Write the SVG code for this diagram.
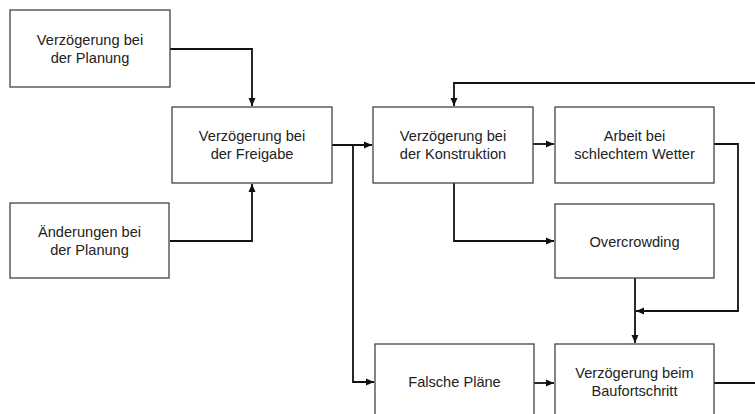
<svg xmlns="http://www.w3.org/2000/svg" width="755" height="414" viewBox="0 0 755 414">
<defs>
<marker id="ah" markerWidth="8" markerHeight="8" refX="8" refY="4" orient="auto" markerUnits="userSpaceOnUse">
<path d="M0,0.5 L8,4 L0,7.5 Z" fill="#111"/>
</marker>
<style>
.box{fill:#fff;stroke:#444;stroke-width:1.3}
.t{font-family:"Liberation Sans",Arial,sans-serif;font-size:14.6px;fill:#222;text-anchor:middle}
.c{fill:none;stroke:#111;stroke-width:1.8}
</style>
</defs>
<rect width="755" height="414" fill="#fff"/>
<g id="connectors">
<path class="c" d="M170,49 H252 V106" marker-end="url(#ah)"/>
<path class="c" d="M170,241 H252 V184" marker-end="url(#ah)"/>
<path class="c" d="M332,145 H372" marker-end="url(#ah)"/>
<path class="c" d="M353,145 V382 H374" marker-end="url(#ah)"/>
<path class="c" d="M756,83 H454 V106" marker-end="url(#ah)"/>
<path class="c" d="M533,144 H554" marker-end="url(#ah)"/>
<path class="c" d="M714,144 H738 V311 H636" marker-end="url(#ah)"/>
<path class="c" d="M454,183 V241 H554" marker-end="url(#ah)"/>
<path class="c" d="M635,278 V343" marker-end="url(#ah)"/>
<path class="c" d="M534,383 H554" marker-end="url(#ah)"/>
<path class="c" d="M714,383 H756"/>
</g>
<g id="planung">
<rect class="box" x="10" y="10" width="160" height="77"/>
<text class="t" x="90" y="45">Verzögerung bei</text>
<text class="t" x="90" y="63">der Planung</text>
</g>
<g id="freigabe">
<rect class="box" x="172" y="107" width="160" height="76"/>
<text class="t" x="252" y="141">Verzögerung bei</text>
<text class="t" x="252" y="159">der Freigabe</text>
</g>
<g id="aenderungen">
<rect class="box" x="10" y="203" width="159" height="75"/>
<text class="t" x="89.5" y="237">Änderungen bei</text>
<text class="t" x="89.5" y="255">der Planung</text>
</g>
<g id="konstruktion">
<rect class="box" x="373" y="107" width="160" height="76"/>
<text class="t" x="453" y="141">Verzögerung bei</text>
<text class="t" x="453" y="159">der Konstruktion</text>
</g>
<g id="wetter">
<rect class="box" x="555" y="107" width="159" height="76"/>
<text class="t" x="634.5" y="141">Arbeit bei</text>
<text class="t" x="634.5" y="159">schlechtem Wetter</text>
</g>
<g id="overcrowding">
<rect class="box" x="555" y="204" width="159" height="74"/>
<text class="t" x="634.5" y="247">Overcrowding</text>
</g>
<g id="falsche">
<rect class="box" x="375" y="344" width="159" height="76"/>
<text class="t" x="454.5" y="387">Falsche Pläne</text>
</g>
<g id="baufortschritt">
<rect class="box" x="555" y="344" width="159" height="76"/>
<text class="t" x="634.5" y="378">Verzögerung beim</text>
<text class="t" x="634.5" y="396">Baufortschritt</text>
</g>
</svg>
